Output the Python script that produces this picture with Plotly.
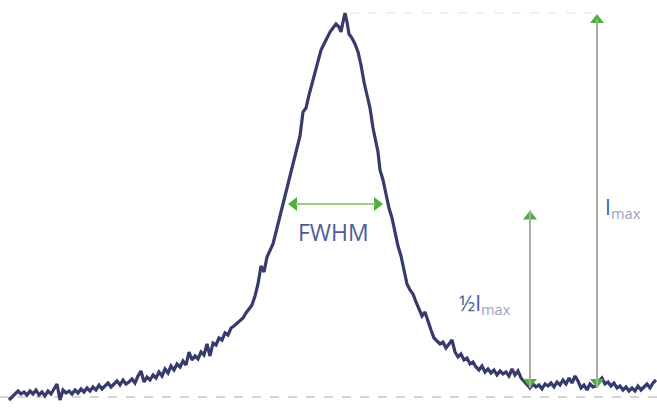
import plotly.graph_objects as go

# channel positions
channel = [9, 12, 15, 18, 21, 24, 27, 30, 33, 36, 39, 42, 45, 48, 51, 54, 57, 60, 63, 66,
           69, 72, 75, 78, 81, 84, 87, 90, 93, 96, 99, 102, 105, 108, 111, 114, 117, 120, 123, 126,
           129, 132, 135, 138, 141, 144, 147, 150, 153, 156, 159, 162, 165, 168, 171, 174, 177, 180, 183, 186,
           189, 192, 195, 198, 201, 204, 207, 210, 213, 216, 219, 222, 225, 228, 231, 234, 237, 240, 243, 246,
           249, 252, 255, 258, 261, 264, 267, 270, 273, 276, 279, 282, 285, 288, 291, 294, 297, 300, 303, 306,
           309, 312, 315, 318, 321, 324, 327, 330, 333, 336, 339, 341, 343, 345, 347, 349, 352, 355, 358, 361,
           364, 367, 370, 373, 376, 378, 380, 383, 386, 389, 392, 395, 398, 401, 404, 407, 410, 413, 416, 419,
           422, 425, 428, 431, 434, 437, 440, 443, 446, 449, 452, 455, 458, 461, 464, 467, 470, 473, 476, 479,
           482, 485, 488, 491, 494, 497, 500, 503, 506, 509, 512, 515, 518, 521, 524, 527, 530, 533, 536, 539,
           542, 545, 548, 551, 554, 557, 560, 563, 566, 569, 572, 575, 578, 581, 584, 587, 590, 593, 596, 599,
           602, 605, 608, 611, 614, 617, 620, 623, 626, 629, 632, 635, 638, 641, 644, 647, 650, 653, 656]

# measured intensity (arbitrary units)
intensity = [8, 11, 14, 17, 14, 16, 13, 17, 14, 18, 13, 16, 12, 17, 14, 19, 24, 8, 18, 15,
             17, 14, 18, 15, 19, 16, 20, 17, 21, 18, 23, 19, 22, 25, 21, 24, 27, 23, 28, 24,
             26, 29, 25, 32, 37, 26, 31, 28, 33, 30, 36, 32, 39, 35, 42, 38, 44, 41, 47, 43,
             56, 48, 52, 49, 56, 53, 64, 52, 65, 63, 70, 68, 75, 73, 80, 82, 85, 88, 90, 95,
             99, 103, 112, 124, 142, 136, 151, 158, 164, 176, 189, 200, 212, 224, 236, 248, 258, 272, 296, 300,
             313, 324, 338, 348, 358, 364, 370, 376, 380, 384, 381, 376, 386, 395, 386, 374, 370, 364, 356, 343,
             326, 312, 300, 280, 264, 256, 238, 228, 214, 200, 190, 175, 162, 152, 136, 124, 118, 114, 106, 99,
             92, 96, 86, 78, 70, 67, 64, 66, 60, 64, 68, 56, 51, 54, 48, 50, 44, 46, 41, 38,
             42, 36, 39, 35, 38, 33, 37, 34, 36, 32, 39, 33, 37, 30, 27, 24, 20, 24, 21, 23,
             19, 24, 22, 25, 21, 26, 23, 28, 24, 30, 25, 32, 27, 20, 23, 18, 24, 21, 22, 27,
             30, 24, 26, 22, 25, 20, 22, 18, 21, 17, 20, 17, 22, 18, 21, 24, 20, 25, 28]

baseline_level = 11

imax = max(intensity)
half = imax / 2
peak_pos = channel[intensity.index(imax)]

# FWHM crossing points and arrow positions
fwhm_left = 288
fwhm_right = 383
fwhm_level = 204
half_arrow_x = 530
max_arrow_x = 597
arrow_foot = 20

line_col = "#363b6c"
green = "#4eb03c"
light_green = "#95d27f"
stem = "#abad9c"
text_col = "#4d5b9c"
sub_col = "#97a3c4"

fig = go.Figure()

# dashed baseline and faint top reference
fig.add_shape(type="line", x0=0, x1=657, y0=baseline_level, y1=baseline_level,
              line=dict(color="#d4d4d4", width=2, dash="dash"), layer="below")
fig.add_shape(type="line", x0=peak_pos + 5, x1=max_arrow_x - 5, y0=imax, y1=imax,
              line=dict(color="#f1f1f1", width=2, dash="dash"), layer="below")

# vertical stems
fig.add_shape(type="line", x0=half_arrow_x, x1=half_arrow_x, y0=arrow_foot, y1=half,
              line=dict(color=stem, width=2))
fig.add_shape(type="line", x0=max_arrow_x, x1=max_arrow_x, y0=arrow_foot, y1=imax - 6,
              line=dict(color=stem, width=2))
# FWHM shaft
fig.add_shape(type="line", x0=fwhm_left + 8, x1=fwhm_right - 8, y0=fwhm_level, y1=fwhm_level,
              line=dict(color=light_green, width=2))

fig.add_trace(go.Scatter(x=channel, y=intensity, mode="lines",
                         line=dict(color=line_col, width=3.2), hoverinfo="skip"))

# arrow heads
fig.add_trace(go.Scatter(
    x=[half_arrow_x, max_arrow_x],
    y=[half - 6, imax - 7],
    mode="markers",
    marker=dict(symbol="triangle-up", size=12, color=green),
    hoverinfo="skip"))
fig.add_trace(go.Scatter(
    x=[half_arrow_x, max_arrow_x],
    y=[arrow_foot + 6, arrow_foot + 6],
    mode="markers",
    marker=dict(symbol="triangle-down", size=12, color=green),
    hoverinfo="skip"))
fig.add_trace(go.Scatter(
    x=[fwhm_left + 6], y=[fwhm_level], mode="markers",
    marker=dict(symbol="triangle-left", size=12, color=green), hoverinfo="skip"))
fig.add_trace(go.Scatter(
    x=[fwhm_right - 6], y=[fwhm_level], mode="markers",
    marker=dict(symbol="triangle-right", size=12, color=green), hoverinfo="skip"))

fig.add_annotation(x=(fwhm_left + fwhm_right) / 2 - 2, y=fwhm_level - 28, text="FWHM",
                   showarrow=False, font=dict(family="Open Sans", size=23, color=text_col))
fig.add_annotation(x=457, y=104, xanchor="left", yanchor="middle",
                   text="½I<sub><span style='color:%s'>max</span></sub>" % sub_col,
                   showarrow=False, font=dict(family="Open Sans", size=21, color=text_col))
fig.add_annotation(x=603, y=200, xanchor="left", yanchor="middle",
                   text="I<sub><span style='color:%s'>max</span></sub>" % sub_col,
                   showarrow=False, font=dict(family="Open Sans", size=21, color=text_col))

fig.update_layout(
    width=657, height=408,
    margin=dict(l=0, r=0, t=0, b=0),
    paper_bgcolor="white", plot_bgcolor="white",
    showlegend=False,
    hovermode=False,
    xaxis=dict(range=[0, 657], visible=False, fixedrange=True),
    yaxis=dict(range=[0, 408], visible=False, fixedrange=True),
)

fig.write_html("out.html",
               config={"displayModeBar": False, "staticPlot": True},
               post_script="document.body.style.margin='0';document.body.style.overflow='hidden';")
